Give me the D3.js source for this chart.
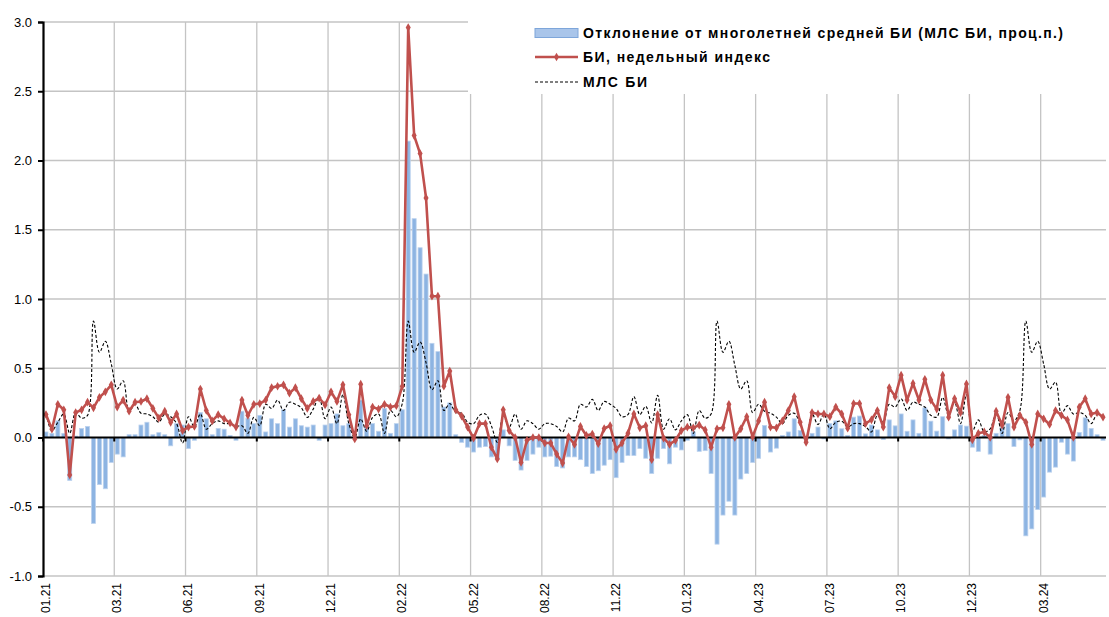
<!DOCTYPE html>
<html><head><meta charset="utf-8">
<script src="https://cdn.jsdelivr.net/npm/d3@7"></script>
<style>
html,body{margin:0;padding:0;background:#fff;}
svg{display:block;font-family:"Liberation Sans",Arial,sans-serif;}
</style></head>
<body>
<svg id="chart" width="1109" height="617"></svg>
<script>
// ---- DATA ----
const startWeek = "2021-01-03";
const xTickLabels = ["01.21","03.21","06.21","09.21","12.21","02.22","05.22","08.22","11.22","01.23","04.23","07.23","10.23","12.23","03.24"];
const xTickEvery = 12;
const yTicks = [-1.0,-0.5,0.0,0.5,1.0,1.5,2.0,2.5,3.0];
const seriesNames = ["Отклонение от многолетней средней БИ (МЛС БИ, проц.п.)","БИ, недельный индекс","МЛС БИ"];

const deviation = [
 0.04,0.03,0.12,0.03,-0.31,0.01,0.065,0.08,-0.62,-0.34,
 -0.37,-0.18,-0.12,-0.14,0.02,0.02,0.09,0.11,0.02,0.035,
 0.02,-0.06,0.1,0.09,-0.08,-0.02,0.18,0.135,0.02,0.065,
 0.06,0.015,-0.02,0.19,0.14,0.1,0.16,0.04,0.135,0.1,
 0.2,0.075,0.135,0.085,0.075,0.09,-0.02,0.09,0.1,0.17,
 0.085,0.1,-0.005,0.27,0.075,0.1,0.045,0.21,0.03,0.1,
 0.2,2.14,1.58,1.37,1.18,0.68,0.62,0.22,0.25,0.02,
 -0.035,-0.07,-0.105,-0.07,-0.065,-0.14,-0.155,0.055,-0.06,-0.165,
 -0.235,-0.165,-0.12,-0.07,-0.14,-0.135,-0.21,-0.22,-0.14,-0.14,
 -0.16,-0.21,-0.26,-0.24,-0.2,-0.16,-0.29,-0.18,-0.13,-0.13,
 -0.08,-0.15,-0.26,-0.15,-0.08,-0.19,-0.07,-0.09,-0.02,0.04,
 -0.1,-0.095,-0.26,-0.77,-0.56,-0.46,-0.56,-0.3,-0.26,-0.18,
 -0.15,0.087,-0.105,-0.077,0.015,0.04,0.135,0.05,-0.015,0.03,
 0.075,-0.01,0.1,0.12,0.063,0.015,0.147,0.155,0.026,0.09,
 0.055,-0.015,0.127,0.084,0.17,0.045,0.127,0.03,0.214,0.118,
 0.046,0.15,-0.01,0.055,0.09,0.082,-0.07,-0.1,0.015,-0.12,
 0.03,0.075,0.1,-0.065,-0.017,-0.71,-0.66,-0.52,-0.43,-0.25,
 -0.214,-0.034,-0.12,-0.17,0.036,0.142,0.065,0.02,-0.02
];

const biWeekly = [
 0.166,0.06,0.24,0.2,-0.27,0.18,0.2,0.255,0.214,0.29,
 0.33,0.38,0.22,0.27,0.19,0.255,0.26,0.28,0.21,0.14,
 0.19,0.11,0.17,0.05,0.075,0.08,0.35,0.195,0.12,0.165,
 0.135,0.105,0.075,0.27,0.16,0.24,0.245,0.27,0.36,0.37,
 0.38,0.32,0.36,0.28,0.21,0.26,0.285,0.235,0.33,0.26,
 0.38,0.165,-0.01,0.385,0.085,0.22,0.205,0.24,0.22,0.23,
 0.37,2.96,2.18,2.05,1.73,1.02,1.02,0.37,0.48,0.2,
 0.155,0.075,-0.005,0.1,0.1,-0.07,-0.155,0.2,0.05,0.0,
 -0.18,-0.02,0.0,0.0,-0.04,-0.04,-0.12,-0.185,0.005,-0.05,
 0.08,0.015,0.025,-0.045,0.065,0.085,-0.085,-0.04,0.03,0.17,
 0.07,0.085,-0.16,0.165,-0.005,-0.05,-0.02,0.05,0.075,0.07,
 0.09,0.055,-0.07,0.063,0.07,0.24,0.0,0.063,0.15,0.005,
 0.12,0.255,0.075,0.07,0.12,0.195,0.295,0.11,-0.035,0.18,
 0.17,0.17,0.15,0.22,0.17,0.067,0.245,0.245,0.1,0.128,
 0.195,0.075,0.36,0.295,0.45,0.27,0.39,0.27,0.42,0.27,
 0.205,0.45,0.147,0.28,0.18,0.387,-0.017,0.03,0.04,0.0,
 0.19,0.09,0.29,0.075,0.16,0.11,-0.05,0.17,0.135,0.094,
 0.195,0.16,0.127,0.0,0.22,0.28,0.17,0.18,0.147
];

const mlsBI = [
 0.17,0.05,0.11,0.17,0.03,0.18,0.14,0.16,0.84,0.615,
 0.695,0.53,0.35,0.41,0.19,0.24,0.175,0.17,0.15,0.11,
 0.17,0.15,0.1,-0.04,0.15,0.075,0.17,0.06,0.1,0.12,
 0.1,0.1,0.08,0.085,0.03,0.145,0.085,0.24,0.21,0.27,
 0.195,0.255,0.24,0.215,0.145,0.205,0.29,0.135,0.22,0.1,
 0.31,0.1,0.0,0.135,0.045,0.145,0.17,0.03,0.195,0.15,
 0.245,0.84,0.615,0.69,0.54,0.345,0.41,0.195,0.245,0.18,
 0.175,0.11,0.1,0.16,0.17,0.085,-0.035,0.16,0.075,0.17,
 0.06,0.12,0.1,0.06,0.1,0.1,0.08,0.04,0.14,0.12,
 0.24,0.22,0.275,0.195,0.26,0.24,0.21,0.15,0.165,0.295,
 0.165,0.225,0.105,0.305,0.06,0.135,0.055,0.12,0.165,0.03,
 0.195,0.14,0.17,0.84,0.615,0.695,0.52,0.35,0.41,0.18,
 0.24,0.19,0.175,0.147,0.1,0.16,0.175,0.1,-0.02,0.17,
 0.094,0.17,0.063,0.11,0.118,0.075,0.1,0.1,0.08,0.04,
 0.16,0.11,0.24,0.22,0.28,0.195,0.255,0.24,0.22,0.16,
 0.147,0.29,0.16,0.255,0.1,0.31,0.046,0.127,0.04,0.063,
 0.18,0.03,0.18,0.12,0.195,0.84,0.615,0.695,0.53,0.35,
 0.4,0.17,0.23,0.17,0.18,0.16,0.1,0.166,0.147
];

(function () {
// categories: weekly dates
const N = biWeekly.length;
const t0 = new Date(startWeek + "T00:00:00");
const categories = d3.range(N).map(i => d3.timeDay.offset(t0, 7 * i));

// ---- LAYOUT ----
const svg = d3.select("#chart");
const pL = 43, pR = 1106, pT = 22, pB = 576;

const x = d3.scaleBand().domain(categories.map((d,i)=>i)).range([pL, pR]).padding(0);
const step = x.step();
const cx = i => x(i) + step / 2;
const y = d3.scaleLinear().domain([-1, 3]).range([pB, pT]);

const gridColor = "#c4c4c4";

svg.append("g").selectAll("line").data(yTicks.filter(v => v !== 0)).join("line")
  .attr("x1", pL).attr("x2", pR)
  .attr("y1", d => y(d)).attr("y2", d => y(d))
  .attr("stroke", gridColor).attr("stroke-width", 1.3);

const tickIdx = xTickLabels.map((l, k) => k * xTickEvery);
svg.append("g").selectAll("line").data(tickIdx.filter(i => i > 0)).join("line")
  .attr("x1", i => x(i)).attr("x2", i => x(i))
  .attr("y1", pT).attr("y2", pB)
  .attr("stroke", gridColor).attr("stroke-width", 1.3);

const barW = step * 0.68;
svg.append("g").selectAll("rect").data(deviation).join("rect")
  .attr("x", (d, i) => cx(i) - barW / 2)
  .attr("width", barW)
  .attr("y", d => Math.min(y(d), y(0)))
  .attr("height", d => Math.abs(y(d) - y(0)))
  .attr("fill", "#8db4e2")
  .attr("stroke", "#bcd2ee").attr("stroke-width", 0.8);

svg.append("line").attr("x1", pL).attr("x2", pR)
  .attr("y1", y(0)).attr("y2", y(0))
  .attr("stroke", "#000").attr("stroke-width", 2);
svg.append("g").selectAll("line").data(tickIdx).join("line")
  .attr("x1", i => x(i)).attr("x2", i => x(i))
  .attr("y1", y(0)).attr("y2", y(0) + 4)
  .attr("stroke", "#000").attr("stroke-width", 2);

svg.append("path").datum(mlsBI)
  .attr("d", d3.line().x((d, i) => cx(i)).y(d => y(d)).curve(d3.curveCatmullRom.alpha(0.5)))
  .attr("fill", "none").attr("stroke", "#000").attr("stroke-width", 1.1)
  .attr("stroke-dasharray", "3,2");

const red = "#c0504d";
svg.append("path").datum(biWeekly)
  .attr("d", d3.line().x((d, i) => cx(i)).y(d => y(d)))
  .attr("fill", "none").attr("stroke", red).attr("stroke-width", 2.6)
  .attr("stroke-linejoin", "round");
const diamond = d3.symbol().type(d3.symbolDiamond).size(22);
svg.append("g").selectAll("path").data(biWeekly).join("path")
  .attr("transform", (d, i) => `translate(${cx(i)},${y(d)})`)
  .attr("d", diamond).attr("fill", red);

const yAxis = svg.append("g").attr("transform", `translate(${pL},0)`)
  .call(d3.axisLeft(y).tickValues(yTicks).tickSize(5).tickPadding(6).tickFormat(d => d.toFixed(1)));
yAxis.select(".domain").attr("stroke", "#000").attr("stroke-width", 2.2);
yAxis.selectAll(".tick line").attr("stroke", "#000").attr("stroke-width", 2);
yAxis.selectAll(".tick text").attr("font-size", 13).attr("fill", "#000")
  .attr("font-family", "'Liberation Sans', Arial, sans-serif");

svg.append("g").selectAll("text").data(tickIdx).join("text")
  .attr("transform", i => `translate(${cx(i) + 4},${pB + 7}) rotate(-90)`)
  .attr("text-anchor", "end")
  .attr("font-size", 12).attr("fill", "#000")
  .text((i, k) => xTickLabels[k]);

const lg = svg.append("g");
lg.append("rect").attr("x", 468).attr("y", 0).attr("width", 641).attr("height", 94).attr("fill", "#fff");
const lx1 = 535, lx2 = 578, tx = 583;
const rows = [33, 57, 82];
lg.append("rect").attr("x", lx1).attr("y", rows[0] - 4.5).attr("width", lx2 - lx1).attr("height", 9)
  .attr("fill", "#a9c5ea").attr("stroke", "#7ea6da").attr("stroke-width", 1);
lg.append("line").attr("x1", lx1).attr("x2", lx2).attr("y1", rows[1]).attr("y2", rows[1])
  .attr("stroke", red).attr("stroke-width", 2.6);
lg.append("path").attr("transform", `translate(${(lx1 + lx2) / 2},${rows[1]})`).attr("d", diamond).attr("fill", red);
lg.append("line").attr("x1", lx1).attr("x2", lx2).attr("y1", rows[2]).attr("y2", rows[2])
  .attr("stroke", "#000").attr("stroke-width", 1.1).attr("stroke-dasharray", "3,2");
const textLens = [480, 187, 64];
seriesNames.forEach((name, k) => {
  lg.append("text").attr("x", tx).attr("y", rows[k] + 5)
    .attr("font-size", 14).attr("font-weight", "bold").attr("fill", "#000")
    .attr("textLength", textLens[k]).attr("lengthAdjust", "spacing")
    .text(name);
});
})();
</script>
</body></html>
